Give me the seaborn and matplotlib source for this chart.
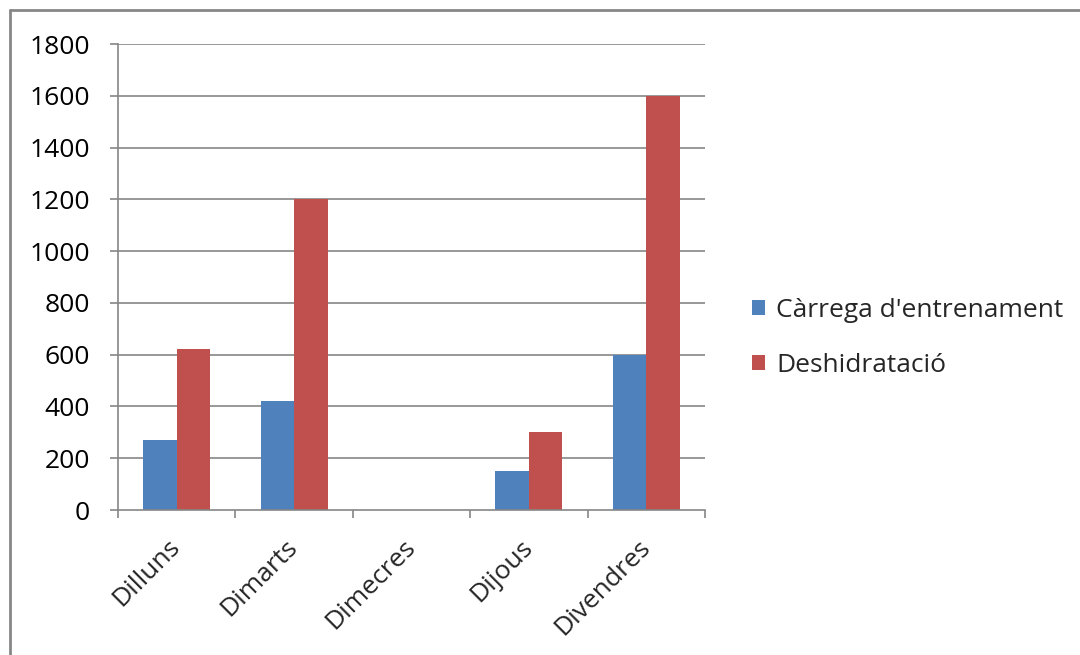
import matplotlib
matplotlib.use("Agg")
import matplotlib.pyplot as plt
import seaborn as sns
import pandas as pd
from matplotlib.lines import Line2D
from matplotlib.patches import Patch
import matplotlib.transforms as mtransforms

days = ["Dilluns", "Dimarts", "Dimecres", "Dijous", "Divendres"]
carrega = [270, 420, 0, 150, 600]
deshidratacio = [620, 1200, 0, 300, 1600]
series_names = ["Càrrega d'entrenament", "Deshidratació"]
colors = ["#4F81BD", "#C0504D"]
yticks = [0, 200, 400, 600, 800, 1000, 1200, 1400, 1600, 1800]

df = pd.DataFrame({
    "day": days * 2,
    "value": carrega + deshidratacio,
    "series": [series_names[0]] * len(days) + [series_names[1]] * len(days),
})

sns.set_style("white")
plt.rcParams["font.family"] = ["Open Sans", "DejaVu Sans"]

fig = plt.figure(figsize=(10.8, 6.55), dpi=100)
ax = fig.add_axes([118 / 1080, 1 - 510 / 655, (705 - 118) / 1080, (510 - 44) / 655])

sns.barplot(data=df, x="day", y="value", hue="series", palette=colors,
            width=0.57, gap=0, ax=ax, legend=False, saturation=1,
            edgecolor="none", linewidth=0)

grid_c = "#868686"
fs = 19
ax.set_ylim(0, 1800)
ax.set_xlim(-0.5, len(days) - 0.5)
ax.set_yticks(yticks)
ax.set_yticklabels([str(v) for v in yticks], fontsize=fs, color="#000000")
for y in yticks[1:]:
    ax.axhline(y, color=grid_c, lw=1.2, zorder=0)
ax.set_axisbelow(True)

ax.set_xticks([i - 0.5 for i in range(len(days) + 1)], minor=True)
ax.set_xticks(range(len(days)))
ax.set_xticklabels(days, fontsize=fs, rotation=45, ha="right", va="center",
                   rotation_mode="anchor")
offset = mtransforms.ScaledTranslation(8.5 / 72, 0, fig.dpi_scale_trans)
for lbl in ax.get_xticklabels():
    lbl.set_transform(lbl.get_transform() + offset)
ax.tick_params(axis="x", which="major", length=0, pad=24)
ax.tick_params(axis="x", which="minor", length=6, width=1.2, color=grid_c,
               direction="out", bottom=True)
ax.tick_params(axis="y", length=6, width=1.2, color=grid_c, direction="out",
               left=True, pad=14)
ax.set_xlabel("")
ax.set_ylabel("")

for s in ["top", "right"]:
    ax.spines[s].set_visible(False)
for s in ["left", "bottom"]:
    ax.spines[s].set_color(grid_c)
    ax.spines[s].set_linewidth(1.2)

handles = [Patch(facecolor=c, edgecolor="none") for c in colors]
fig.legend(handles, series_names, loc="center left",
           bbox_to_anchor=(739 / 1080, 1 - 338 / 655), frameon=False,
           fontsize=fs, handlelength=0.5, handleheight=0.5, borderpad=0,
           handletextpad=0.42, labelspacing=1.15)

border_c = "#878787"
fig.add_artist(Line2D([9.5 / 1080, 9.5 / 1080], [0, 1 - 9.5 / 655],
                      transform=fig.transFigure, color=border_c, lw=2))
fig.add_artist(Line2D([9.5 / 1080, 1], [1 - 9.5 / 655, 1 - 9.5 / 655],
                      transform=fig.transFigure, color=border_c, lw=2))

fig.savefig("out.png", dpi=100, facecolor="white")
